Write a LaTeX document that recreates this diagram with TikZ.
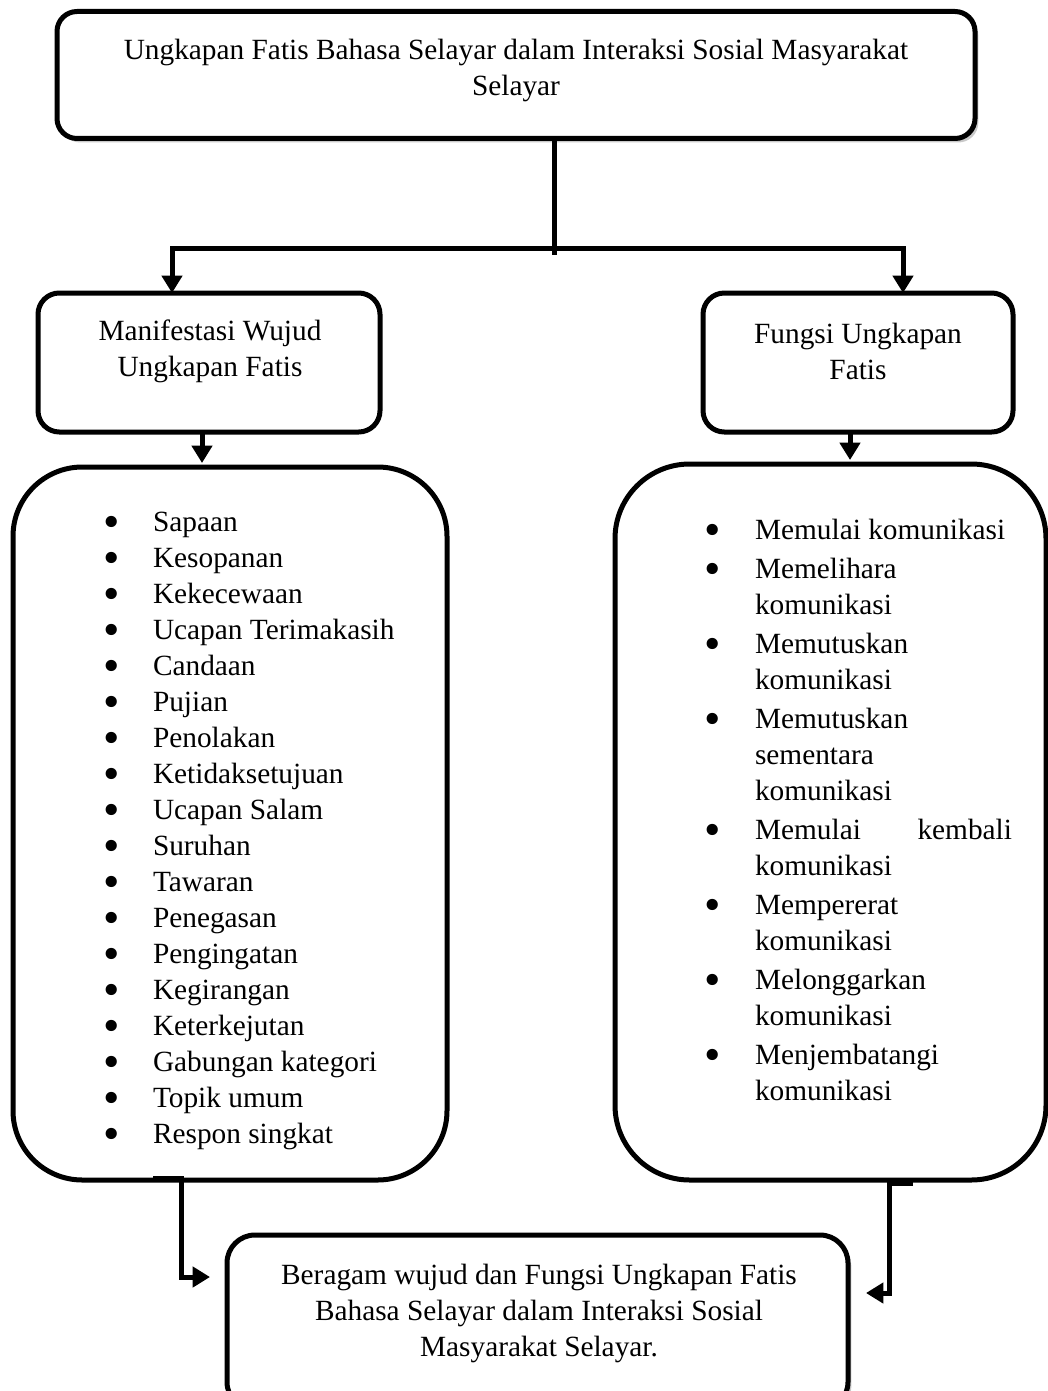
\documentclass[tikz,border=0pt]{standalone}
\usepackage{fontspec}
\setmainfont{Liberation Serif}
\usetikzlibrary{arrows.meta,shadows}
\newcommand\bigbul{\smash{\raisebox{-4.6pt}{\scalebox{1.6}{\textbullet}}}}
\newcommand\bulL{\makebox[30.75pt][l]{\hbox to 0pt{\hss\bigbul\hss}}}
\newcommand\bulR{\makebox[31.5pt][l]{\hbox to 0pt{\hss\bigbul\hss}}}
\newcommand\indR{\hspace*{31.5pt}}
\begin{document}
\begin{tikzpicture}[x=0.75pt,y=-0.75pt,
  box/.style={draw, line width=3.75pt, rounded corners=#1, fill=white, inner sep=0pt, outer sep=0pt},
  shad/.style={drop shadow={shadow xshift=2.5pt, shadow yshift=-3pt, opacity=0.3, fill=black!70}},
  txt/.style={font=\fontsize{22}{27}\selectfont, inner sep=0pt, outer sep=0pt},
  line/.style={line width=3.75pt},
  arr/.style={line width=3.75pt, -{Triangle[width=15pt,length=13pt]}}]
\useasboundingbox (0,0) rectangle (1048,1391);

% boxes
\node[box=15pt, shad, minimum width=688.5pt, minimum height=95.25pt] (top) at (516,75) {};
\node[box=16pt, minimum width=256.5pt, minimum height=104.25pt] (manif) at (209,362.5) {};
\node[box=16pt, minimum width=232.5pt, minimum height=104.25pt] (fungsi) at (858,362.5) {};
\node[box=52pt, minimum width=325.5pt, minimum height=534.75pt] (llist) at (230,823.5) {};
\node[box=56pt, minimum width=323.25pt, minimum height=537pt] (rlist) at (830.5,822) {};
\node[box=21pt, shad, minimum width=465.75pt, minimum height=131.25pt] (final) at (537.5,1322.5) {};

% texts
\node[txt, anchor=base] (ttop) at (516,60) {\begin{tabular}[t]{@{}c@{}}Ungkapan Fatis Bahasa Selayar dalam Interaksi Sosial Masyarakat\\ Selayar\end{tabular}};
\node[txt, anchor=base] (tmanif) at (210,340) {\begin{tabular}[t]{@{}c@{}}Manifestasi Wujud\\ Ungkapan Fatis\end{tabular}};
\node[txt, anchor=base] (tfungsi) at (858,343) {\begin{tabular}[t]{@{}c@{}}Fungsi Ungkapan\\ Fatis\end{tabular}};
\node[txt, anchor=base] (tfinal) at (539,1284) {\begin{tabular}[t]{@{}c@{}}Beragam wujud dan Fungsi Ungkapan Fatis\\ Bahasa Selayar dalam Interaksi Sosial\\ Masyarakat Selayar.\end{tabular}};

\node[txt, anchor=base west] (tllist) at (112,531) {\begin{tabular}[t]{@{}l@{}}
\bulL Sapaan\\
\bulL Kesopanan\\
\bulL Kekecewaan\\
\bulL Ucapan Terimakasih\\
\bulL Candaan\\
\bulL Pujian\\
\bulL Penolakan\\
\bulL Ketidaksetujuan\\
\bulL Ucapan Salam\\
\bulL Suruhan\\
\bulL Tawaran\\
\bulL Penegasan\\
\bulL Pengingatan\\
\bulL Kegirangan\\
\bulL Keterkejutan\\
\bulL Gabungan kategori\\
\bulL Topik umum\\
\bulL Respon singkat
\end{tabular}};

\node[txt, anchor=base west] (trlist) at (713,539) {\begin{tabular}[t]{@{}l@{}}
\bulR Memulai komunikasi\\[2.25pt]
\bulR Memelihara\\
\indR komunikasi\\[2.25pt]
\bulR Memutuskan\\
\indR komunikasi\\[2.25pt]
\bulR Memutuskan\\
\indR sementara\\
\indR komunikasi\\[2.25pt]
\bulR \makebox[192.75pt][s]{Memulai kembali}\\
\indR komunikasi\\[2.25pt]
\bulR Mempererat\\
\indR komunikasi\\[2.25pt]
\bulR Melonggarkan\\
\indR komunikasi\\[2.25pt]
\bulR Menjembatangi\\
\indR komunikasi
\end{tabular}};

% connectors
\coordinate (sx) at (554,248);
\coordinate (sxe) at (554,255);
\coordinate (jl) at (172,248);
\coordinate (jr) at (903,248);
\coordinate (ax) at (202,0);
\coordinate (bx) at (850,0);
\draw[line] (top.south -| sx) -- (sxe);
\draw[arr] (sx) -| (manif.north -| jl);
\draw[arr] (sx) -| (fungsi.north -| jr);
\draw[arr, shorten >=3pt] (manif.south -| ax) -- (llist.north -| ax);
\draw[arr, shorten >=3pt] (fungsi.south -| bx) -- (rlist.north -| bx);

\coordinate (lb1) at (153,1178);
\coordinate (lb2) at (181,1178);
\coordinate (lb3) at (181,1277);
\coordinate (lb4) at (210,1277);
\draw[arr] (lb1) -- (lb2) -- (lb3) -- (lb4);
\coordinate (rb1) at (913,1183);
\coordinate (rb2) at (889,1183);
\coordinate (rb3) at (889,1293);
\coordinate (rb4) at (866,1293);
\draw[arr] (rb1) -- (rb2) -- (rb3) -- (rb4);
\end{tikzpicture}
\end{document}
